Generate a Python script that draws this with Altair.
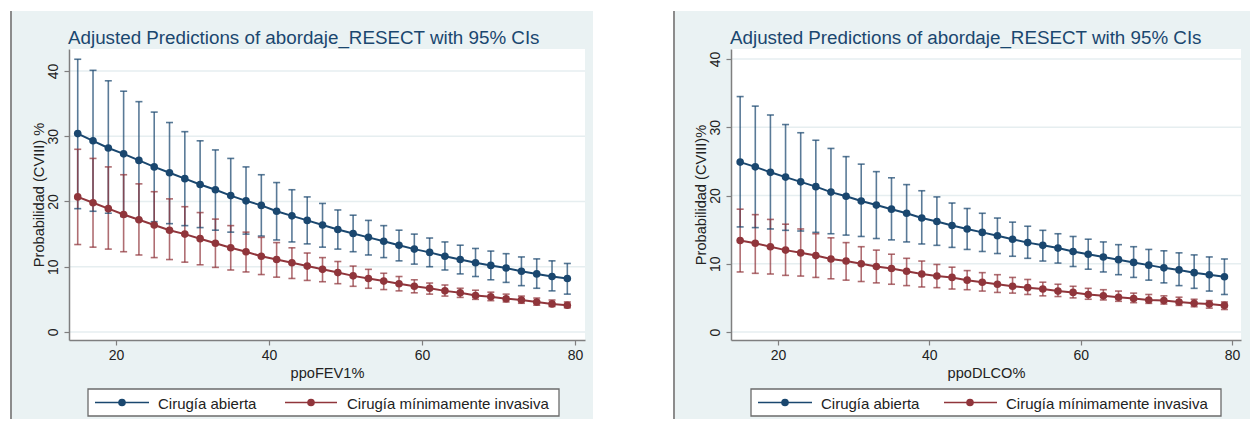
import altair as alt
import pandas as pd

# ---------------- data ----------------
x_vals = [15, 17, 19, 21, 23, 25, 27, 29, 31, 33, 35, 37, 39, 41, 43, 45, 47,
          49, 51, 53, 55, 57, 59, 61, 63, 65, 67, 69, 71, 73, 75, 77, 79]

grupos = ["Cirugía abierta", "Cirugía mínimamente invasiva"]
colores = ["#1a476f", "#90353b"]

x_ticks = [20, 40, 60, 80]
y_ticks = [0, 10, 20, 30, 40]

# ppoFEV1%
fev_abierta = [30.4, 29.3, 28.2, 27.3, 26.3, 25.3, 24.4, 23.5, 22.6, 21.8, 20.9, 20.1, 19.4, 18.5, 17.8, 17.1, 16.4,
               15.7, 15.1, 14.5, 13.9, 13.3, 12.7, 12.2, 11.6, 11.1, 10.6, 10.2, 9.8, 9.3, 8.9, 8.5, 8.2]
fev_abierta_hi = [41.8, 40.1, 38.5, 36.9, 35.3, 33.7, 32.1, 30.7, 29.3, 27.9, 26.6, 25.3, 24.1, 22.9, 21.8, 20.7, 19.7,
                  18.7, 17.9, 17.1, 16.3, 15.6, 15.0, 14.4, 13.8, 13.3, 12.8, 12.4, 12.0, 11.5, 11.2, 10.9, 10.5]
fev_abierta_lo = [18.9, 18.5, 18.2, 17.7, 17.2, 16.9, 16.6, 16.3, 16.0, 15.6, 15.3, 15.0, 14.7, 14.1, 13.8, 13.5, 13.0,
                  12.7, 12.3, 11.8, 11.4, 10.9, 10.4, 10.0, 9.5, 8.9, 8.5, 8.0, 7.6, 7.1, 6.7, 6.3, 5.8]
fev_mi = [20.7, 19.8, 18.9, 18.0, 17.2, 16.4, 15.6, 15.0, 14.3, 13.6, 12.9, 12.3, 11.6, 11.1, 10.6, 10.1, 9.6,
          9.1, 8.6, 8.2, 7.8, 7.4, 7.0, 6.7, 6.3, 6.0, 5.6, 5.4, 5.1, 4.9, 4.6, 4.3, 4.1]
fev_mi_hi = [28.0, 26.6, 25.3, 24.1, 22.7, 21.5, 20.4, 19.2, 18.3, 17.3, 16.3, 15.3, 14.5, 13.7, 12.9, 12.1, 11.4,
             10.8, 10.1, 9.6, 9.0, 8.5, 8.0, 7.5, 7.2, 6.7, 6.4, 6.1, 5.8, 5.5, 5.2, 4.9, 4.6]
fev_mi_lo = [13.4, 13.0, 12.7, 12.3, 11.8, 11.4, 11.1, 10.7, 10.3, 9.9, 9.5, 9.2, 8.8, 8.4, 8.2, 7.9, 7.7,
             7.4, 7.0, 6.7, 6.5, 6.3, 6.0, 5.8, 5.5, 5.3, 5.0, 4.8, 4.6, 4.4, 4.1, 3.9, 3.7]

# ppoDLCO%
dlco_abierta = [24.9, 24.2, 23.4, 22.7, 22.0, 21.3, 20.5, 19.9, 19.2, 18.6, 18.0, 17.4, 16.7, 16.2, 15.6, 15.1, 14.6,
                14.1, 13.6, 13.1, 12.7, 12.3, 11.8, 11.4, 11.0, 10.6, 10.2, 9.8, 9.4, 9.1, 8.7, 8.4, 8.1]
dlco_abierta_hi = [34.5, 33.1, 31.8, 30.4, 29.2, 28.1, 26.9, 25.7, 24.6, 23.5, 22.6, 21.6, 20.7, 19.8, 18.9, 18.1, 17.4,
                   16.7, 16.1, 15.5, 14.9, 14.4, 14.0, 13.6, 13.2, 12.8, 12.5, 12.1, 11.9, 11.6, 11.3, 11.0, 10.7]
dlco_abierta_lo = [15.4, 15.3, 15.1, 14.9, 14.8, 14.6, 14.4, 14.2, 14.0, 13.7, 13.5, 13.2, 12.9, 12.7, 12.4, 12.1, 11.8,
                   11.5, 11.1, 10.8, 10.4, 10.1, 9.6, 9.2, 8.8, 8.4, 8.0, 7.6, 7.2, 6.8, 6.4, 6.0, 5.5]
dlco_mi = [13.4, 13.0, 12.5, 12.0, 11.6, 11.2, 10.7, 10.4, 10.0, 9.6, 9.3, 8.9, 8.5, 8.2, 8.0, 7.6, 7.3,
           7.0, 6.7, 6.5, 6.3, 6.0, 5.8, 5.5, 5.3, 5.1, 4.9, 4.7, 4.6, 4.4, 4.2, 4.1, 3.9]
dlco_mi_hi = [18.0, 17.2, 16.5, 15.8, 15.1, 14.4, 13.8, 13.1, 12.5, 12.0, 11.4, 10.8, 10.4, 9.9, 9.5, 9.0, 8.7,
              8.4, 8.0, 7.7, 7.3, 7.0, 6.7, 6.4, 6.2, 6.0, 5.7, 5.5, 5.3, 5.1, 4.8, 4.6, 4.4]
dlco_mi_lo = [8.8, 8.6, 8.5, 8.3, 8.2, 8.0, 7.8, 7.6, 7.4, 7.2, 7.0, 6.8, 6.6, 6.5, 6.3, 6.2, 6.0,
              5.8, 5.7, 5.5, 5.3, 5.2, 5.0, 4.8, 4.7, 4.5, 4.3, 4.2, 4.1, 3.9, 3.7, 3.5, 3.3]

titulo = "Adjusted Predictions of abordaje_RESECT with 95% CIs"

# ---------------- styling ----------------
BG = "#eaf2f3"
GRID = "#e6eef0"
AXC = "#7f7f7f"
TXT = "#222222"
FONT = "Liberation Sans"


def frame(est_a, lo_a, hi_a, est_m, lo_m, hi_m):
    rows = []
    for g, est, lo, hi in ((grupos[0], est_a, lo_a, hi_a), (grupos[1], est_m, lo_m, hi_m)):
        for x, e, l, h in zip(x_vals, est, lo, hi):
            rows.append({"x": x, "grupo": g, "est": e, "lo": l, "hi": h})
    return pd.DataFrame(rows)


def panel(df, xtitle, ytitle, xdom, ydom, W, H, bg_left, bg_right, leg):
    one = pd.DataFrame({"k": [0]})
    xs = alt.Scale(domain=xdom, nice=False, zero=False)
    ys = alt.Scale(domain=ydom, nice=False, zero=False)
    xax = alt.Axis(values=x_ticks, title=xtitle, grid=False, zindex=1, format="d",
                   labelPadding=3, titlePadding=3)
    yax = alt.Axis(values=y_ticks, title=ytitle, grid=False, zindex=1, format="d",
                   labelAngle=270, labelAlign="center", labelBaseline="alphabetic",
                   labelPadding=7, titlePadding=0)
    X = lambda f: alt.X(f, scale=xs, axis=xax)
    Y = lambda f: alt.Y(f, scale=ys, axis=yax)
    col = alt.Color("grupo:N", scale=alt.Scale(domain=grupos, range=colores), legend=None)

    c1 = alt.Chart(one)
    bg = c1.mark_rect(fill=BG).encode(
        x=alt.value(bg_left), x2=alt.value(bg_right), y=alt.value(-38), y2=alt.value(370))
    border = c1.mark_rule(stroke="#8c8c8c", strokeWidth=2).encode(
        x=alt.value(bg_left + 1), y=alt.value(-38), y2=alt.value(370))
    white = c1.mark_rect(fill="white").encode(
        x=alt.value(0), x2=alt.value(W), y=alt.value(0), y2=alt.value(H))
    title = c1.mark_text(text=titulo, align="left", baseline="alphabetic", fontSize=18.8,
                         color="#1a476f", font=FONT).encode(x=alt.value(-1), y=alt.value(-5))

    grid = alt.Chart(pd.DataFrame({"g": y_ticks})).mark_rule(stroke=GRID, strokeWidth=1.6).encode(
        y=Y("g:Q"))

    base = alt.Chart(df)
    bars = base.mark_rule(strokeWidth=1.6, opacity=0.72).encode(
        x=X("x:Q"), y=Y("lo:Q"), y2="hi:Q", color=col)
    cap_lo = base.mark_point(shape="M-1,0L1,0", size=49, filled=False, strokeWidth=1.6, opacity=0.72).encode(
        x=X("x:Q"), y=Y("lo:Q"), color=col)
    cap_hi = base.mark_point(shape="M-1,0L1,0", size=49, filled=False, strokeWidth=1.6, opacity=0.72).encode(
        x=X("x:Q"), y=Y("hi:Q"), color=col)
    line = base.mark_line(strokeWidth=2).encode(
        x=X("x:Q"), y=Y("est:Q"), color=col, detail="grupo:N")
    pts = base.mark_circle(size=58, opacity=1).encode(
        x=X("x:Q"), y=Y("est:Q"), color=col)

    # legend (Stata style box)
    lx0, lx1, ly0, ly1 = leg["box"]
    ly = (ly0 + ly1) / 2
    box = c1.mark_rect(fill="white", stroke="#6b6b6b", strokeWidth=1.3).encode(
        x=alt.value(lx0), x2=alt.value(lx1), y=alt.value(ly0), y2=alt.value(ly1))
    legend_layers = [box]
    for (s0, s1, dot, tx), g, c in zip(leg["entries"], grupos, colores):
        legend_layers.append(c1.mark_rule(stroke=c, strokeWidth=1.6).encode(
            x=alt.value(s0), x2=alt.value(s1), y=alt.value(ly)))
        legend_layers.append(c1.mark_circle(fill=c, size=58, opacity=1).encode(
            x=alt.value(dot), y=alt.value(ly)))
        legend_layers.append(c1.mark_text(text=g, align="left", baseline="middle", fontSize=15,
                                          color=TXT, font=FONT).encode(
            x=alt.value(tx), y=alt.value(ly + 1)))

    return alt.layer(bg, border, white, grid, bars, cap_lo, cap_hi, line, pts, title,
                     *legend_layers).properties(width=W, height=H)


df_fev = frame(fev_abierta, fev_abierta_lo, fev_abierta_hi, fev_mi, fev_mi_lo, fev_mi_hi)
df_dlco = frame(dlco_abierta, dlco_abierta_lo, dlco_abierta_hi, dlco_mi, dlco_mi_lo, dlco_mi_hi)

left = panel(df_fev, "ppoFEV1%", "Probabilidad (CVIII) %", [13.86, 81.31], [-1.23, 43.37],
             516, 291, -59, 524,
             {"box": (19, 490, 340, 367), "entries": [(26, 80, 53, 89), (216, 268, 242, 278)]})
right = panel(df_dlco, "ppoDLCO%", "Probabilidad (CVIII)%", [13.79, 81.19], [-1.17, 41.47],
              510, 291, -58, 519,
              {"box": (20, 490, 340, 367), "entries": [(27, 81, 54, 90), (213, 266, 239, 275)]})

chart = alt.hconcat(left, right, spacing=80).properties(
    padding={"left": 2, "top": 2, "right": 0, "bottom": 0}
).configure(
    font=FONT,
    background="white",
).configure_view(
    stroke=None
).configure_axis(
    domainColor=AXC, domainWidth=1.5, tickColor=AXC, tickSize=5, tickWidth=1.2,
    labelFontSize=14, labelColor=TXT, labelFont=FONT,
    titleFontSize=14.6, titleColor=TXT, titleFont=FONT, titleFontWeight="normal",
)

chart.save("out.html", embed_options={"renderer": "svg", "actions": False})
